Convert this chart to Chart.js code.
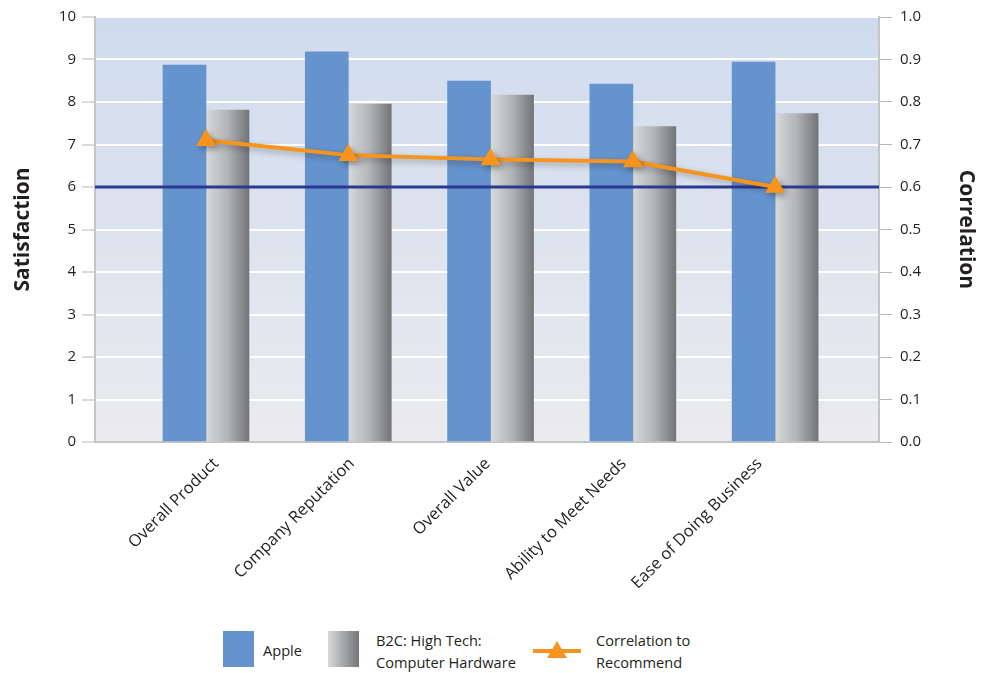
<!DOCTYPE html>
<html>
<head>
<meta charset="utf-8">
<script src="https://cdn.jsdelivr.net/npm/chart.js@4.4.0/dist/chart.umd.min.js"></script>
<style>
  body { margin: 0; background: #fff; font-family: "Open Sans", sans-serif; color: #231f20; }
  #wrap { position: relative; width: 981px; height: 673px; }
  #box { position: absolute; left: 0; top: 0; width: 981px; height: 615px; }
  .lg { position: absolute; font-size: 14.6px; line-height: 22px; }
  .sw { position: absolute; width: 31px; height: 36px; }
</style>
</head>
<body>
<div id="wrap">
  <div id="box"><canvas id="myChart"></canvas></div>
  <div class="sw" style="left:223px; top:631px; background:#6593cd"></div>
  <div class="lg" style="left:263px; top:639px">Apple</div>
  <div class="sw" style="left:328px; top:631px; background:linear-gradient(to right,#d8d9db,#747579)"></div>
  <div class="lg" style="left:376px; top:629px">B2C: High Tech:<br>Computer Hardware</div>
  <canvas id="lgLine" width="60" height="30" style="position:absolute; left:530px; top:636px"></canvas>
  <div class="lg" style="left:596px; top:629px">Correlation to<br>Recommend</div>
</div>
<script>
var categories = ["Overall Product", "Company Reputation", "Overall Value", "Ability to Meet Needs", "Ease of Doing Business"];
var appleScores = [8.87, 9.18, 8.49, 8.42, 8.94];
var hardwareScores = [7.81, 7.95, 8.16, 7.42, 7.73];
var correlation = [0.71, 0.675, 0.665, 0.66, 0.60];
var satisfactionTarget = 6;

var orange = "#f7941d";
var barWidth = 43;
// category labels sit on a slightly tighter spacing than the bar groups
var labelStart = 0.014, labelStep = 0.955;

function grayBar(context) {
  var chart = context.chart;
  var x = chart.scales.x;
  if (!x || context.dataIndex === undefined) return "#a0a1a4";
  var c = x.getPixelForValue(context.dataIndex);
  if (!isFinite(c)) return "#a0a1a4";
  var g = chart.ctx.createLinearGradient(c, 0, c + barWidth, 0);
  g.addColorStop(0, "#d8d9db");
  g.addColorStop(0.5, "#b2b3b6");
  g.addColorStop(1, "#737478");
  return g;
}

var plotBg = {
  id: "plotBg",
  beforeDraw: function(chart) {
    var a = chart.chartArea, ctx = chart.ctx;
    var g = ctx.createLinearGradient(0, a.top, 0, a.bottom);
    g.addColorStop(0, "#cfdbee");
    g.addColorStop(1, "#ebebee");
    ctx.save();
    ctx.fillStyle = g;
    ctx.fillRect(a.left, a.top, a.right - a.left, a.bottom - a.top);
    ctx.restore();
  },
  beforeDatasetDraw: function(chart, args) {
    var ctx = chart.ctx, a = chart.chartArea;
    if (args.meta.type === "line") {
      var y = chart.scales.y.getPixelForValue(satisfactionTarget);
      ctx.save();
      ctx.strokeStyle = "#2b3990";
      ctx.lineWidth = 3;
      ctx.beginPath();
      ctx.moveTo(a.left, y);
      ctx.lineTo(a.right, y);
      ctx.stroke();
      ctx.restore();
      ctx.save();
      ctx.shadowColor = "rgba(0,0,0,0.3)";
      ctx.shadowBlur = 6;
      ctx.shadowOffsetX = 3;
      ctx.shadowOffsetY = 3;
    }
  },
  afterDatasetDraw: function(chart, args) {
    if (args.meta.type === "line") chart.ctx.restore();
  }
};

var tickFont = { family: "'Open Sans', sans-serif", size: 15 };
var catFont = { family: "'Open Sans', sans-serif", size: 16.5 };
var titleFont = { family: "'Open Sans', sans-serif", size: 21, weight: "bold" };

var ctx = document.getElementById("myChart");
var myChart = new Chart(ctx, {
  type: "bar",
  data: {
    datasets: [
      {
        type: "line",
        label: "Correlation to Recommend",
        data: correlation.map(function(v, i) { return { x: i, y: v }; }),
        yAxisID: "y1",
        borderColor: orange,
        backgroundColor: orange,
        borderWidth: 4,
        pointStyle: "triangle",
        pointRadius: 11.5,
        pointBorderWidth: 0,
        pointBackgroundColor: orange,
        order: 0
      },
      {
        label: "Apple",
        data: appleScores.map(function(v, i) { return { x: i, y: v }; }),
        backgroundColor: "#6593cd",
        yAxisID: "y",
        barThickness: barWidth,
        order: 1
      },
      {
        label: "B2C: High Tech: Computer Hardware",
        data: hardwareScores.map(function(v, i) { return { x: i, y: v }; }),
        backgroundColor: grayBar,
        yAxisID: "y",
        barThickness: barWidth,
        order: 1
      }
    ]
  },
  options: {
    responsive: true,
    maintainAspectRatio: false,
    animation: false,
    layout: { padding: { top: 17, left: 0, right: 0, bottom: 0 } },
    plugins: { legend: { display: false }, tooltip: { enabled: false } },
    scales: {
      x: {
        type: "linear",
        offset: false,
        min: -0.78,
        max: 4.73,
        afterBuildTicks: function(scale) {
          scale.ticks = categories.map(function(c, i) { return { value: labelStart + i * labelStep }; });
        },
        afterFit: function(scale) { scale.height = 615 - 442; },
        grid: { display: false, offset: false },
        border: { display: true, color: "#c4c5c9", width: 2 },
        ticks: {
          autoSkip: false,
          maxRotation: 45,
          minRotation: 45,
          font: catFont,
          color: "#231f20",
          padding: 4,
          labelOffset: 8,
          callback: function(v) { return categories[Math.round((v - labelStart) / labelStep)]; }
        }
      },
      y: {
        position: "left",
        min: 0,
        max: 10,
        afterFit: function(scale) { scale.width = 95; },
        grid: { color: "#ffffff", lineWidth: 2, tickColor: "#b5b6b9", tickLength: 13, tickWidth: 1 },
        border: { display: true, color: "#c4c5c9", width: 2 },
        ticks: { stepSize: 1, font: tickFont, color: "#231f20", padding: 6 },
        title: { display: true, text: "Satisfaction", font: titleFont, color: "#231f20", padding: { top: 10, bottom: 0 } }
      },
      y1: {
        position: "right",
        min: 0,
        max: 1,
        afterFit: function(scale) { scale.width = 981 - 879; },
        grid: { drawOnChartArea: false, tickColor: "#b5b6b9", tickLength: 13, tickWidth: 1 },
        border: { display: true, color: "#c4c5c9", width: 2 },
        ticks: {
          stepSize: 0.1,
          font: tickFont,
          color: "#231f20",
          padding: 8,
          callback: function(v) { return v.toFixed(1); }
        },
        title: { display: true, text: "Correlation", font: titleFont, color: "#231f20", padding: { top: 2, bottom: 0 } }
      }
    }
  },
  plugins: [plotBg]
});

// legend line sample
var lc = document.getElementById("lgLine").getContext("2d");
lc.strokeStyle = orange;
lc.lineWidth = 4;
lc.beginPath();
lc.moveTo(3, 15);
lc.lineTo(51, 15);
lc.stroke();
lc.fillStyle = orange;
lc.beginPath();
lc.moveTo(27, 5);
lc.lineTo(37, 22);
lc.lineTo(17, 22);
lc.closePath();
lc.fill();
</script>
</body>
</html>
